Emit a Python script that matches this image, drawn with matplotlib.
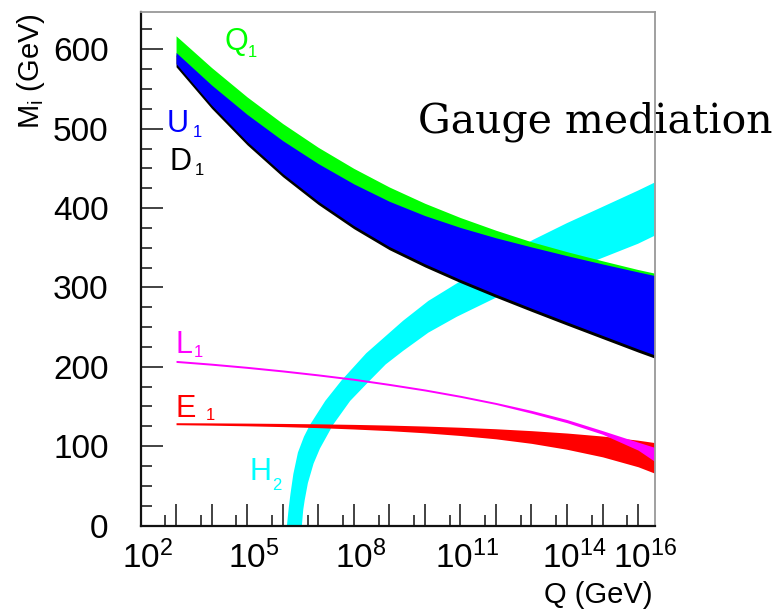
import matplotlib
matplotlib.use('Agg')
import matplotlib.pyplot as plt
import matplotlib.transforms as mtransforms
from matplotlib.ticker import MultipleLocator, FixedLocator

plt.rcParams['font.family'] = ['Liberation Sans', 'DejaVu Sans']
plt.rcParams['mathtext.default'] = 'regular'

# Scale Q (GeV): one point per decade, last one at the right edge of the frame
Q = [1e3, 1e4, 1e5, 1e6, 1e7, 1e8, 1e9, 1e10, 1e11, 1e12, 1e13, 1e14, 1e15, 1e16, 2.9e16]

# squark bands (GeV)
q1_lo = [592, 552, 515, 481, 452, 425, 402, 383, 366, 351, 338, 326, 315, 305, 302]
q1_hi = [617, 577, 540, 506.5, 476.5, 450, 426.5, 406, 388, 372, 357.5, 345, 333.5, 322.5, 318]
u1_lo = [582, 529.6, 483.6, 443.5, 408.5, 378, 351.5, 329.8, 310, 291.5, 273.8, 256.5, 239.5, 222.5, 215]
u1_hi = [596, 555, 518, 485, 456, 430.5, 408.5, 390.5, 375.5, 362.5, 351, 340, 329.5, 319.5, 315]
d1_lo = [578, 525.6, 479.6, 439.5, 404.5, 374, 347.5, 325.8, 306, 287.5, 269.8, 252.5, 235.5, 218.5, 211]
d1_hi = [593, 541, 495, 455, 420, 389, 363, 341, 321, 303, 285, 268, 251, 234, 226]

# slepton bands (GeV)
l1_lo = [205.5, 202, 198, 193.5, 188.5, 183, 176.5, 169.5, 161.5, 152.5, 141.5, 129.5, 115, 95, 81]
l1_hi = [208, 204.5, 200.5, 196, 191, 185.5, 179, 172, 164, 155, 145, 133.5, 119.5, 105, 98.5]
e1_lo = [127, 126.4, 125.6, 124.6, 123.3, 121.6, 119.5, 116.8, 113.4, 109.2, 103.5, 96, 86.5, 74, 66]
e1_hi = [129.5, 129.3, 129, 128.6, 128.1, 127.4, 126.5, 125.3, 123.8, 121.9, 119.5, 116.5, 112.7, 107.5, 104.5]

# H2 band: upper (left) edge and lower (right) edge, each on its own Q grid
h2_up_Q = [1.32e6, 1.48e6, 1.66e6, 2.0e6, 2.69e6, 3.98e6, 5.89e6, 1.58e7, 4.57e7,
           2.24e8, 2.45e9, 1.26e10, 7.94e10, 1e12, 1.12e13, 1e14, 8.5e14, 1e16, 2.9e16]
h2_up = [0, 22, 40, 65, 92, 112, 127, 157, 183, 217, 258, 283, 305, 334, 360, 381, 400, 422, 432]
h2_lo_Q = [3.47e6, 3.8e6, 4.17e6, 5.13e6, 7.41e6, 1.12e7, 2.63e7, 7.94e7, 2.88e8,
           7.94e8, 2.45e9, 1.26e10, 7.94e10, 1e12, 1e13, 1e14, 8.5e14, 1e16, 2.9e16]
h2_lo = [0, 20, 32, 53.5, 78, 97, 127, 157, 183, 203, 220, 243, 263, 287, 304, 320, 336, 355, 365]

decades = [1e2, 1e3, 1e4, 1e5, 1e6, 1e7, 1e8, 1e9, 1e10, 1e11, 1e12, 1e13, 1e14, 1e15, 1e16]
decade_labels = ['$10^{2}$', '', '', '$10^{5}$', '', '', '$10^{8}$', '', '',
                 '$10^{11}$', '', '', '$10^{14}$', '', '$10^{16}$']
halves = [5e2, 5e3, 5e4, 5e5, 5e6, 5e7, 5e8, 5e9, 5e10, 5e11, 5e12, 5e13, 5e14, 5e15]

W, H = 784, 612
fig = plt.figure(figsize=(W / 100, H / 100), dpi=100)
ax = fig.add_axes([140.5 / W, 1 - 525.5 / H, 514 / W, 513.5 / H])

# drawing order as in the original: Higgs at the back, sleptons on top
ax.fill(h2_up_Q + h2_lo_Q[::-1], h2_up + h2_lo[::-1], color='#00ffff', lw=0)
ax.fill_between(Q, q1_lo, q1_hi, color='#00ff00', lw=0)
ax.fill_between(Q, d1_lo, d1_hi, color='black', lw=0)
ax.fill_between(Q, u1_lo, u1_hi, color='#0000ff', lw=0)
ax.fill_between(Q, e1_lo, e1_hi, color='#ff0000', lw=0)
ax.fill_between(Q, l1_lo, l1_hi, color='#ff00ff', lw=0)

ax.set_xscale('log')
ax.set_xlim(1e2, 2.9e16)
ax.set_ylim(0, 647)

ax.set_xticks(decades, decade_labels)
ax.xaxis.set_minor_locator(FixedLocator(halves))
ax.xaxis.set_minor_formatter(plt.NullFormatter())
ax.yaxis.set_major_locator(MultipleLocator(100))
ax.yaxis.set_minor_locator(MultipleLocator(25))

ax.tick_params(axis='both', which='both', direction='in', top=False, right=False,
               color='#222222', width=1.2)
ax.tick_params(axis='both', which='major', length=16)
ax.tick_params(axis='both', which='minor', length=8)
ax.tick_params(axis='y', which='major', labelsize=24, pad=23)
ax.tick_params(axis='x', which='major', labelsize=24, pad=11)

shift = mtransforms.ScaledTranslation(5 / 72, 0, fig.dpi_scale_trans)
for lab in ax.get_xticklabels():
    lab.set_transform(lab.get_transform() + shift)

for side in ['left', 'bottom']:
    ax.spines[side].set_color('#111111')
    ax.spines[side].set_linewidth(1.6)
for side in ['top', 'right']:
    ax.spines[side].set_color('#999999')
    ax.spines[side].set_linewidth(1.3)

# axis titles, ROOT style (right / top aligned)
fig.text(31 / W, 1 - 13 / H, 'M$_{i}$ (GeV)', rotation=90, ha='center', va='top', fontsize=21)
fig.text(653 / W, 1 - 595 / H, 'Q (GeV)', ha='right', va='center', fontsize=21)


# curve labels: letter plus small subscript, placed in figure pixels
def label(x, y, s, sx, sy, sub, color):
    fig.text(x / W, 1 - y / H, s, color=color, fontsize=22, ha='left', va='baseline')
    fig.text(sx / W, 1 - sy / H, sub, color=color, fontsize=12, ha='left', va='baseline')


label(224, 50, 'Q', 248, 57, '1', '#00ff00')
label(167, 132, 'U', 193, 137, '1', '#0000ff')
label(169, 170, 'D', 195, 175, '1', 'black')
label(175, 353, 'L', 194, 357, '1', '#ff00ff')
label(175, 417, 'E', 206, 420, '1', '#ff0000')
label(250, 480, 'H', 272, 490, '2', '#00ffff')

fig.text(418 / W, 1 - 133 / H, 'Gauge mediation', family='DejaVu Serif',
         fontsize=29.5, ha='left', va='baseline')

fig.savefig('out.png', dpi=100)
